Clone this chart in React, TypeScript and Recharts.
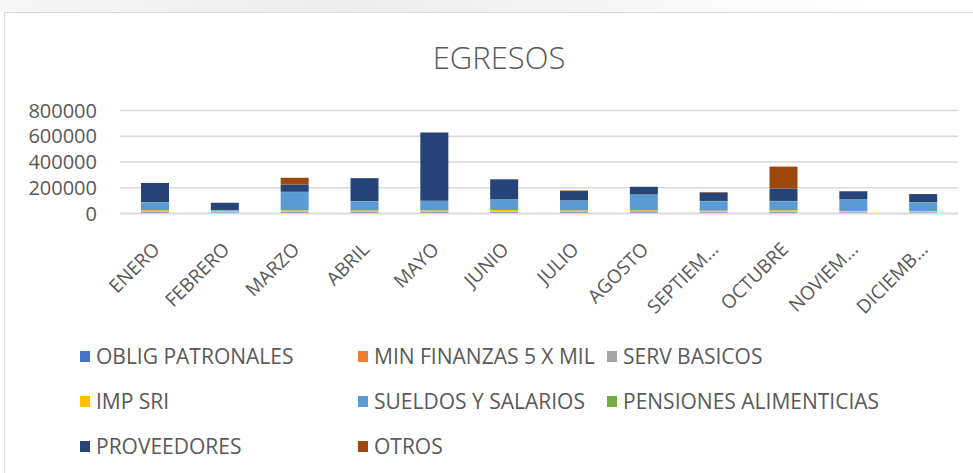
import { BarChart, Bar, XAxis, YAxis, CartesianGrid, Legend } from "recharts";

// months and the truncated labels shown under the axis
const MONTHS = [
  "ENERO", "FEBRERO", "MARZO", "ABRIL", "MAYO", "JUNIO",
  "JULIO", "AGOSTO", "SEPTIEMBRE", "OCTUBRE", "NOVIEMBRE", "DICIEMBRE",
];
const TICK_LABELS = [
  "ENERO", "FEBRERO", "MARZO", "ABRIL", "MAYO", "JUNIO",
  "JULIO", "AGOSTO", "SEPTIEM...", "OCTUBRE", "NOVIEM...", "DICIEMB...",
];
const Y_TICKS = [0, 200000, 400000, 600000, 800000];

// series values
const OBLIG_PATRONALES = [10000, 9000, 10000, 10000, 10000, 10000, 10000, 10000, 9000, 10000, 8000, 8000];
const MIN_FINANZAS = [1500, 1000, 1500, 1500, 1500, 1500, 1500, 1500, 1500, 1500, 1000, 1000];
const SERV_BASICOS = [4000, 3000, 4000, 4000, 4000, 4000, 4000, 6000, 4000, 4000, 4000, 4000];
const IMP_SRI = [10000, 7000, 9000, 9000, 9000, 12000, 9000, 8000, 8000, 10000, 7000, 7000];
const SUELDOS = [62000, 6000, 142000, 70000, 73000, 80000, 75000, 120000, 73000, 70000, 88000, 67000];
const PENSIONES = [2000, 1500, 2000, 2000, 2000, 2000, 2000, 2000, 2000, 2000, 2000, 2000];
const PROVEEDORES = [148000, 56000, 57000, 178000, 530000, 156000, 73000, 60000, 66000, 96000, 62000, 62000];
const OTROS = [0, 0, 52000, 0, 0, 0, 4000, 0, 4000, 171000, 3000, 0];

const SERIES = [
  { key: "OBLIG PATRONALES", values: OBLIG_PATRONALES, color: "#4472C4" },
  { key: "MIN FINANZAS 5 X MIL", values: MIN_FINANZAS, color: "#ED7D31" },
  { key: "SERV BASICOS", values: SERV_BASICOS, color: "#A5A5A5" },
  { key: "IMP SRI", values: IMP_SRI, color: "#FFC000" },
  { key: "SUELDOS Y SALARIOS", values: SUELDOS, color: "#5B9BD5" },
  { key: "PENSIONES ALIMENTICIAS", values: PENSIONES, color: "#70AD47" },
  { key: "PROVEEDORES", values: PROVEEDORES, color: "#264478" },
  { key: "OTROS", values: OTROS, color: "#9E480E" },
];

const data = MONTHS.map((month, i) => {
  const row: Record<string, string | number> = { name: month };
  SERIES.forEach((s) => {
    row[s.key] = s.values[i];
  });
  return row;
});

const FONT = "'Open Sans', sans-serif";
const TEXT = "#595959";

const MonthTick = (props: any) => {
  const { x, y, index } = props;
  const ax = x + 6;
  const ay = y + 35;
  return (
    <text
      x={ax}
      y={ay}
      transform={`rotate(-45, ${ax}, ${ay})`}
      textAnchor="end"
      fill={TEXT}
      fontSize={19}
      fontFamily={FONT}
    >
      {TICK_LABELS[index]}
    </text>
  );
};

const LegendGrid = () => {
  const cols = [80, 358, 607];
  return (
    <div style={{ position: "relative", width: 973, height: 130 }}>
      {SERIES.map((s, i) => (
        <div
          key={s.key}
          style={{
            position: "absolute",
            left: cols[i % 3],
            top: Math.floor(i / 3) * 45,
            display: "flex",
            alignItems: "center",
            height: 26,
            fontFamily: FONT,
            fontSize: 21,
            color: TEXT,
            whiteSpace: "nowrap",
          }}
        >
          <span
            style={{
              display: "inline-block",
              width: 10,
              height: 11,
              background: s.color,
              marginRight: 6,
            }}
          />
          {s.key}
        </div>
      ))}
    </div>
  );
};

export default function App() {
  return (
    <div
      style={{
        position: "absolute",
        left: 0,
        top: 0,
        width: 973,
        height: 473,
        background: "#ffffff",
        overflow: "hidden",
      }}
    >
      {/* light band of the slide background above the chart frame */}
      <div
        style={{
          position: "absolute",
          left: 0,
          top: 0,
          width: 973,
          height: 12,
          background: "linear-gradient(90deg, #f7f7f7 0%, #ececec 35%, #f5f5f5 60%, #ffffff 90%)",
        }}
      />
      <div
        style={{
          position: "absolute",
          left: 4,
          top: 12,
          width: 990,
          height: 480,
          border: "1px solid #d9d9d9",
          background: "#ffffff",
        }}
      />
      <div
        style={{
          position: "absolute",
          left: 0,
          top: 36,
          width: 998,
          textAlign: "center",
          fontFamily: FONT,
          fontWeight: 300,
          fontSize: 31,
          color: TEXT,
        }}
      >
        EGRESOS
      </div>
      <div style={{ position: "absolute", left: 0, top: 0 }}>
        <BarChart
          width={973}
          height={473}
          data={data}
          barSize={28}
          margin={{ top: 110.5, right: 15, left: 10, bottom: 199.5 }}
        >
          <CartesianGrid vertical={false} stroke="#d9d9d9" strokeWidth={1.5} />
          <XAxis
            dataKey="name"
            height={60}
            interval={0}
            axisLine={{ stroke: "#d9d9d9", strokeWidth: 1.5 }}
            tickLine={false}
            tickSize={0}
            tick={<MonthTick />}
          />
          <YAxis
            width={110}
            domain={[0, 800000]}
            ticks={Y_TICKS}
            interval={0}
            axisLine={false}
            tickLine={false}
            tickSize={0}
            tickMargin={23}
            tick={{ fill: TEXT, fontSize: 20, fontFamily: FONT }}
          />
          <Legend
            layout="horizontal"
            verticalAlign="middle"
            align="center"
            wrapperStyle={{ top: 343, left: 0, width: 973 }}
            content={() => <LegendGrid />}
          />
          {SERIES.map((s) => (
            <Bar
              key={s.key}
              dataKey={s.key}
              stackId="egresos"
              fill={s.color}
              isAnimationActive={false}
            />
          ))}
        </BarChart>
      </div>
    </div>
  );
}
